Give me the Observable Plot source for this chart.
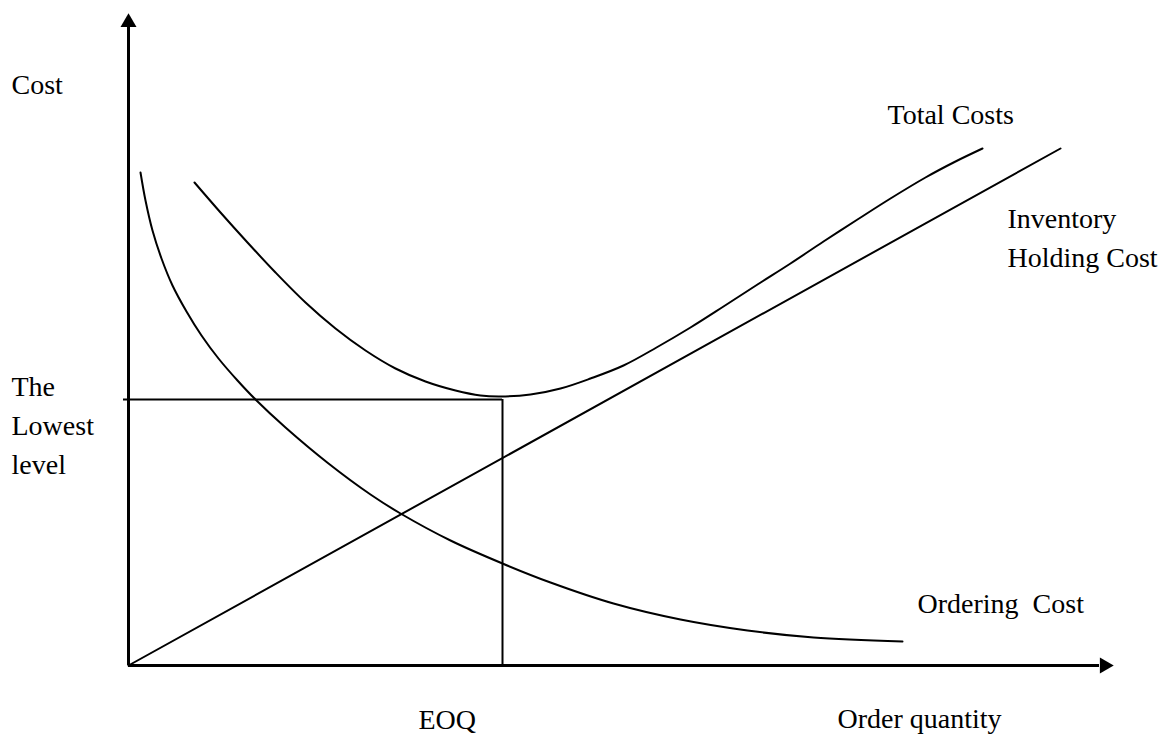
<!DOCTYPE html>
<html><head><meta charset="utf-8">
<script src="https://cdn.jsdelivr.net/npm/d3@7"></script>
<script src="https://cdn.jsdelivr.net/npm/@observablehq/plot@0.6"></script>
<style>body{margin:0;background:#fff} svg{display:block}</style>
</head><body><div id="chart"></div>
<script>
// Order quantity (x) and cost (y) readings, in arbitrary drawing units
const orderingQ = [12, 17, 24, 33, 44, 58, 73, 90, 109, 127, 157, 200, 242, 272, 322, 374, 422, 485, 552, 619, 685, 774];
const orderingCost = [493, 465, 435, 407, 380, 354, 330, 307, 285, 266, 238, 202, 171, 152, 125, 102, 83, 62, 46, 35, 28, 24];

const totalQ = [66, 92, 119, 147, 177, 207, 237, 267, 297, 327, 352, 372, 402, 432, 462, 495, 528, 562, 595, 629, 662, 695, 729, 762, 797, 827, 854];
const totalCost = [483, 453, 423, 393, 363, 337, 315, 297, 284, 275, 270, 269, 271, 277, 287, 300, 318, 338, 359, 381, 402, 424, 446, 467, 488, 504, 517];

const holdingQ = [0, 932];
const holdingCost = [0, 517];

const eoq = 374;
const lowestCost = 266;

const xMax = 985;
const yMax = 652;

const yLabel = "Cost";
const xLabel = "Order quantity";
const eoqLabel = "EOQ";
const lowestLabel = "The\nLowest\nlevel";
const totalLabel = "Total Costs";
const holdingLabel = "Inventory\nHolding Cost";
const orderingLabel = "Ordering  Cost";

const zip = (xs, ys) => xs.map((x, i) => ({x, y: ys[i]}));

const font = 28;
const chart = Plot.plot({
  width: 1172, height: 734,
  marginLeft: 128, marginRight: 59, marginTop: 13, marginBottom: 69,
  x: {domain: [0, xMax], axis: null},
  y: {domain: [0, yMax], axis: null},
  style: {fontFamily: "'Liberation Serif', 'Times New Roman', serif", background: "white", color: "black"},
  marks: [
    // axes
    Plot.ruleX([0], {y1: 0, y2: yMax - 14, stroke: "black", strokeWidth: 3}),
    Plot.ruleY([0], {x1: 0, x2: xMax - 14, stroke: "black", strokeWidth: 3}),
    Plot.dot([{x: 0, y: yMax - 9}], {x: "x", y: "y", symbol: "triangle", r: 5.94, fill: "black", stroke: "none"}),
    Plot.dot([{x: xMax - 9, y: 0}], {x: "x", y: "y", symbol: "triangle", r: 5.94, fill: "black", stroke: "none", rotate: 90}),
    // EOQ guides
    Plot.ruleY([lowestCost], {x1: -5, x2: eoq, stroke: "black", strokeWidth: 2}),
    Plot.ruleX([eoq], {y1: 0, y2: lowestCost, stroke: "black", strokeWidth: 2}),
    // curves
    Plot.line(zip(holdingQ, holdingCost), {x: "x", y: "y", stroke: "black", strokeWidth: 2}),
    Plot.line(zip(orderingQ, orderingCost), {x: "x", y: "y", stroke: "black", strokeWidth: 2, curve: "catmull-rom"}),
    Plot.line(zip(totalQ, totalCost), {x: "x", y: "y", stroke: "black", strokeWidth: 2, curve: "catmull-rom"}),
    // labels
    Plot.text([yLabel], {x: -117, y: 572, text: d => d, textAnchor: "start", lineAnchor: "bottom", fontSize: font, fill: "black"}),
    Plot.text([lowestLabel], {x: -117, y: 192, text: d => d, textAnchor: "start", lineAnchor: "bottom", lineHeight: 1.39, fontSize: font, fill: "black"}),
    Plot.text([totalLabel], {x: 759, y: 542, text: d => d, textAnchor: "start", lineAnchor: "bottom", fontSize: font, fill: "black"}),
    Plot.text([holdingLabel], {x: 879, y: 399, text: d => d, textAnchor: "start", lineAnchor: "bottom", lineHeight: 1.36, fontSize: font, fill: "black"}),
    Plot.text([orderingLabel], {x: 789, y: 53, text: d => d, textAnchor: "start", lineAnchor: "bottom", fontSize: font, fill: "black"}),
    Plot.text([eoqLabel], {x: eoq - 84, y: -63, text: d => d, textAnchor: "start", lineAnchor: "bottom", fontSize: font, fill: "black"}),
    Plot.text([xLabel], {x: 709, y: -62, text: d => d, textAnchor: "start", lineAnchor: "bottom", fontSize: font, fill: "black"})
  ]
});
document.getElementById("chart").append(chart);
</script>
</body></html>
